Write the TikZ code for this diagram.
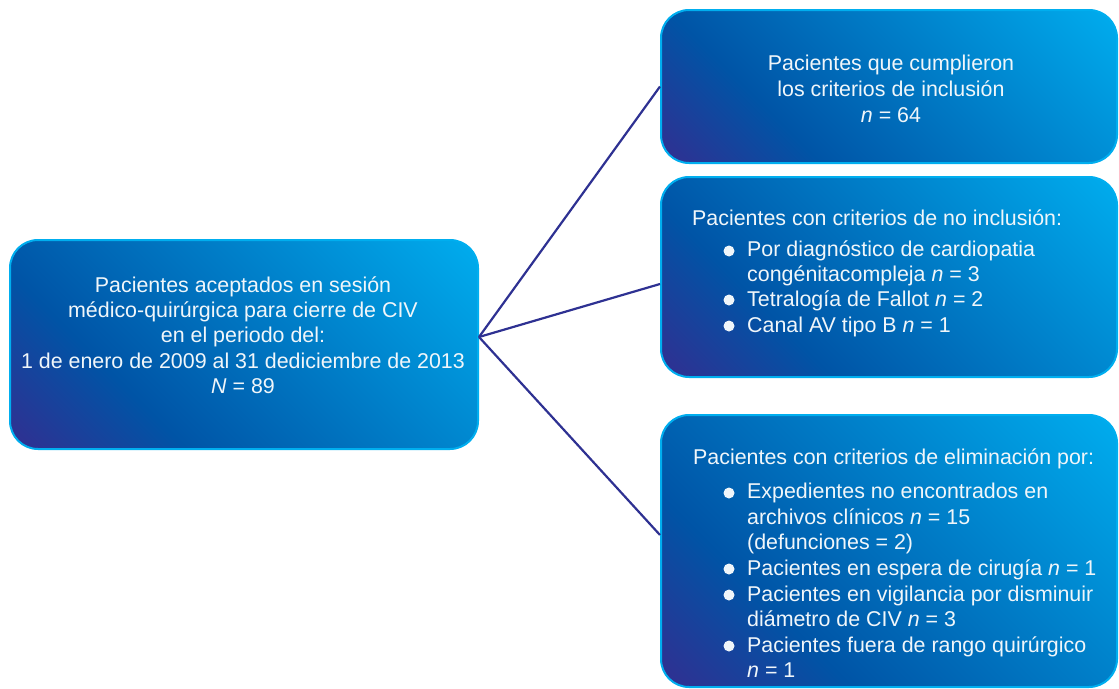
\documentclass[tikz,border=0pt]{standalone}
\usepackage{fontspec}
\setmainfont{Liberation Sans}
\usetikzlibrary{calc}
\definecolor{cyanb}{RGB}{0,174,239}
\definecolor{dblue}{RGB}{0,84,166}
\definecolor{navyp}{RGB}{46,49,146}
\definecolor{linec}{RGB}{46,49,146}
\definecolor{txtc}{RGB}{240,246,250}
\pgfdeclareverticalshading{boxshade}{100bp}{color(0bp)=(navyp); color(16bp)=(navyp); color(33bp)=(dblue); color(86bp)=(cyanb); color(100bp)=(cyanb)}
\begin{document}
\begin{tikzpicture}[x=1pt,y=-1pt,
  box/.style={draw=cyanb, line width=2pt, rounded corners=28pt, shading=boxshade, shading angle=-45, inner sep=0pt},
  txt/.style={text=txtc, font=\fontsize{21.4}{25}\selectfont, inner sep=0pt, anchor=base},
  txl/.style={txt, anchor=base west},
  conn/.style={draw=linec, line width=2.2pt},
  bul/.style={fill=txtc}]
\useasboundingbox (0,0) rectangle (1119,688);
% boxes
\node[box, minimum width=468pt, minimum height=209pt] (left) at (244,344.5) {};
\node[box, minimum width=456pt, minimum height=153pt] (top) at (889,86.5) {};
\node[box, minimum width=456pt, minimum height=200pt] (mid) at (889,277) {};
\node[box, minimum width=456pt, minimum height=272pt] (bot) at (889,551) {};
% connectors
\coordinate (J) at (left.east |- 0,337);
\coordinate (mp) at (mid.west |- 0,284);
\coordinate (bp) at (bot.west |- 0,535);
\draw[conn] (J) -- (top.west);
\draw[conn] (J) -- (mp);
\draw[conn] (J) -- (bp);
% left text
\node[txt] (l1) at (243,292) {Pacientes aceptados en sesión};
\node[txt] (l2) at (243,317) {médico-quirúrgica para cierre de CIV};
\node[txt] (l3) at (243,342) {en el periodo del:};
\node[txt] (l4) at (243,368) {1 de enero de 2009 al 31 dediciembre de 2013};
\node[txt] (l5) at (243,393) {\textit{N} = 89};
% top text
\node[txt] (t1) at (891,70) {Pacientes que cumplieron};
\node[txt] (t2) at (891,96) {los criterios de inclusión};
\node[txt] (t3) at (891,122) {\textit{n} = 64};
% middle text
\node[txl] (m0) at (692,225) {Pacientes con criterios de no inclusión:};
\node[txl] (m1) at (747,256) {Por diagnóstico de cardiopatia};
\node[txl] (m2) at (747,281) {congénitacompleja \textit{n} = 3};
\node[txl] (m3) at (747,306) {Tetralogía de Fallot \textit{n} = 2};
\node[txl] (m4) at (747,332) {Canal AV tipo B \textit{n} = 1};
\fill[bul] (729,251) circle (5.5pt);
\fill[bul] (729,300) circle (5.5pt);
\fill[bul] (729,326) circle (5.5pt);
% bottom text
\node[txl] (b0) at (693,464) {Pacientes con criterios de eliminación por:};
\node[txl] (b1) at (747,498) {Expedientes no encontrados en};
\node[txl] (b2) at (747,524) {archivos clínicos \textit{n} = 15};
\node[txl] (b3) at (747,549) {(defunciones = 2)};
\node[txl] (b4) at (747,575) {Pacientes en espera de cirugía \textit{n} = 1};
\node[txl] (b5) at (747,601) {Pacientes en vigilancia por disminuir};
\node[txl] (b6) at (747,626) {diámetro de CIV \textit{n} = 3};
\node[txl] (b7) at (747,652) {Pacientes fuera de rango quirúrgico};
\node[txl] (b8) at (747,677) {\textit{n} = 1};
\fill[bul] (729,493) circle (5.5pt);
\fill[bul] (729,569) circle (5.5pt);
\fill[bul] (729,595) circle (5.5pt);
\fill[bul] (729,646) circle (5.5pt);
\end{tikzpicture}
\end{document}
